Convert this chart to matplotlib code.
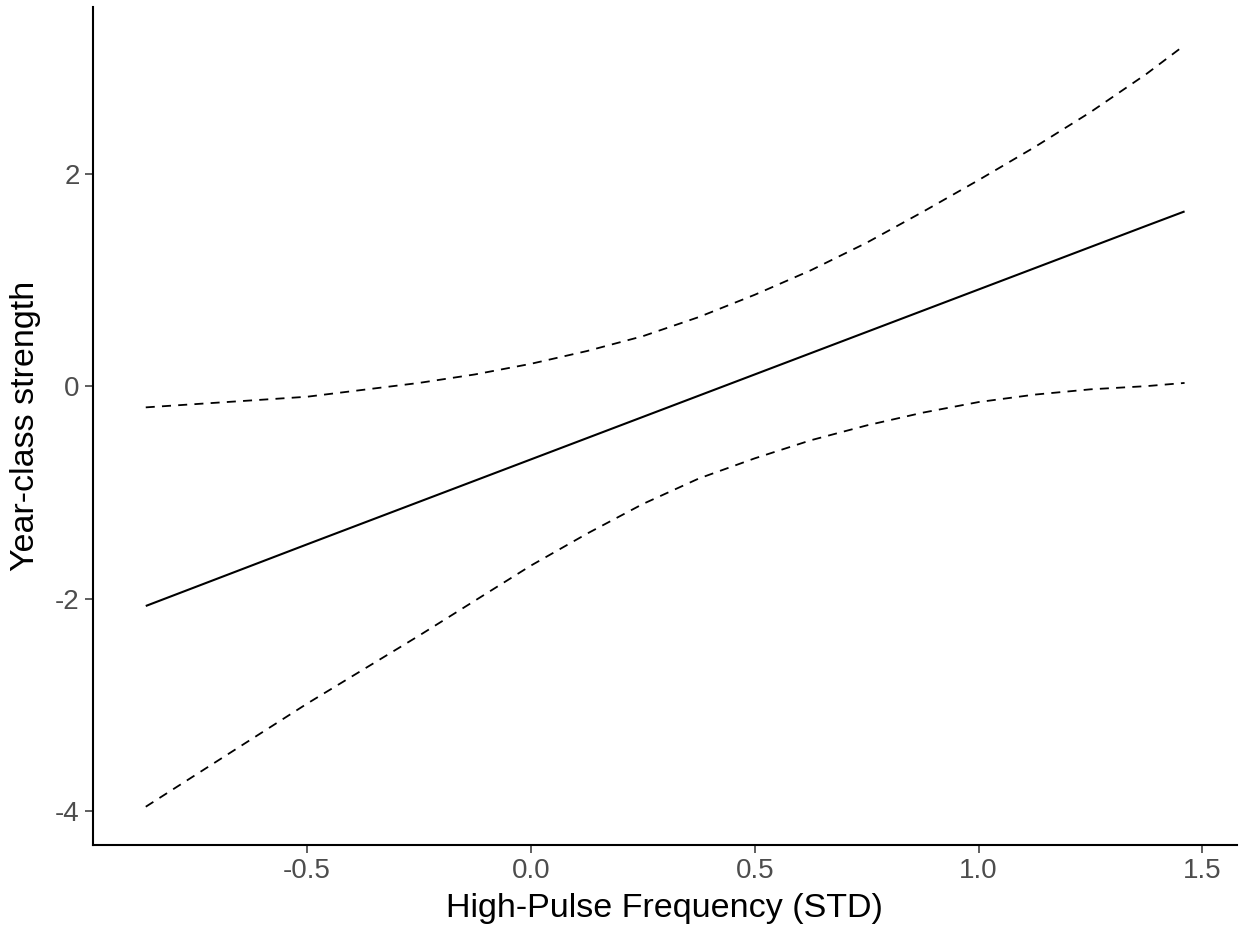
import matplotlib.pyplot as plt

plt.rcParams['font.family'] = ['Liberation Sans', 'DejaVu Sans']

# 数据
x = [-0.86, -0.5, -0.25, -0.125, 0.0, 0.125, 0.25, 0.375, 0.5, 0.625, 0.75,
     0.875, 1.0, 1.125, 1.25, 1.375, 1.46]
fit = [-2.07, -1.49, -1.09, -0.89, -0.69, -0.49, -0.29, -0.09, 0.11, 0.31, 0.51,
       0.71, 0.91, 1.11, 1.31, 1.51, 1.645]
upper = [-0.20, -0.10, 0.03, 0.11, 0.21, 0.33, 0.47, 0.65, 0.86, 1.09, 1.35,
         1.64, 1.94, 2.25, 2.58, 2.94, 3.21]
lower = [-3.96, -2.99, -2.35, -2.02, -1.69, -1.39, -1.11, -0.87, -0.68, -0.51, -0.37,
         -0.25, -0.15, -0.08, -0.03, 0.00, 0.03]

xticks = [-0.5, 0.0, 0.5, 1.0, 1.5]
xtick_labels = ['-0.5', '0.0', '0.5', '1.0', '1.5']
yticks = [-4, -2, 0, 2]
ytick_labels = ['-4', '-2', '0', '2']

fig = plt.figure(figsize=(12.39, 9.26), dpi=100)
ax = fig.add_axes([0.075, 0.0875, 0.923, 0.905])

ax.plot(x, fit, color='black', linewidth=1.5, solid_capstyle='butt')
ax.plot(x, upper, color='black', linewidth=1.3, linestyle=(0, (5, 4)))
ax.plot(x, lower, color='black', linewidth=1.3, linestyle=(0, (5, 4)))

ax.set_xlim(-0.978, 1.576)
ax.set_ylim(-4.32, 3.57)

ax.set_xticks(xticks, xtick_labels)
ax.set_yticks(yticks, ytick_labels)
ax.tick_params(axis='both', labelsize=20, labelcolor='#4D4D4D', color='#333333',
               length=6, width=1.1)

ax.spines['top'].set_visible(False)
ax.spines['right'].set_visible(False)
for s in ['left', 'bottom']:
    ax.spines[s].set_linewidth(1.5)
    ax.spines[s].set_color('black')

ax.set_xlabel('High-Pulse Frequency (STD)', fontsize=24.5, labelpad=6)
ax.set_ylabel('Year-class strength', fontsize=24.5, labelpad=10)

plt.savefig('out.png', dpi=100)
